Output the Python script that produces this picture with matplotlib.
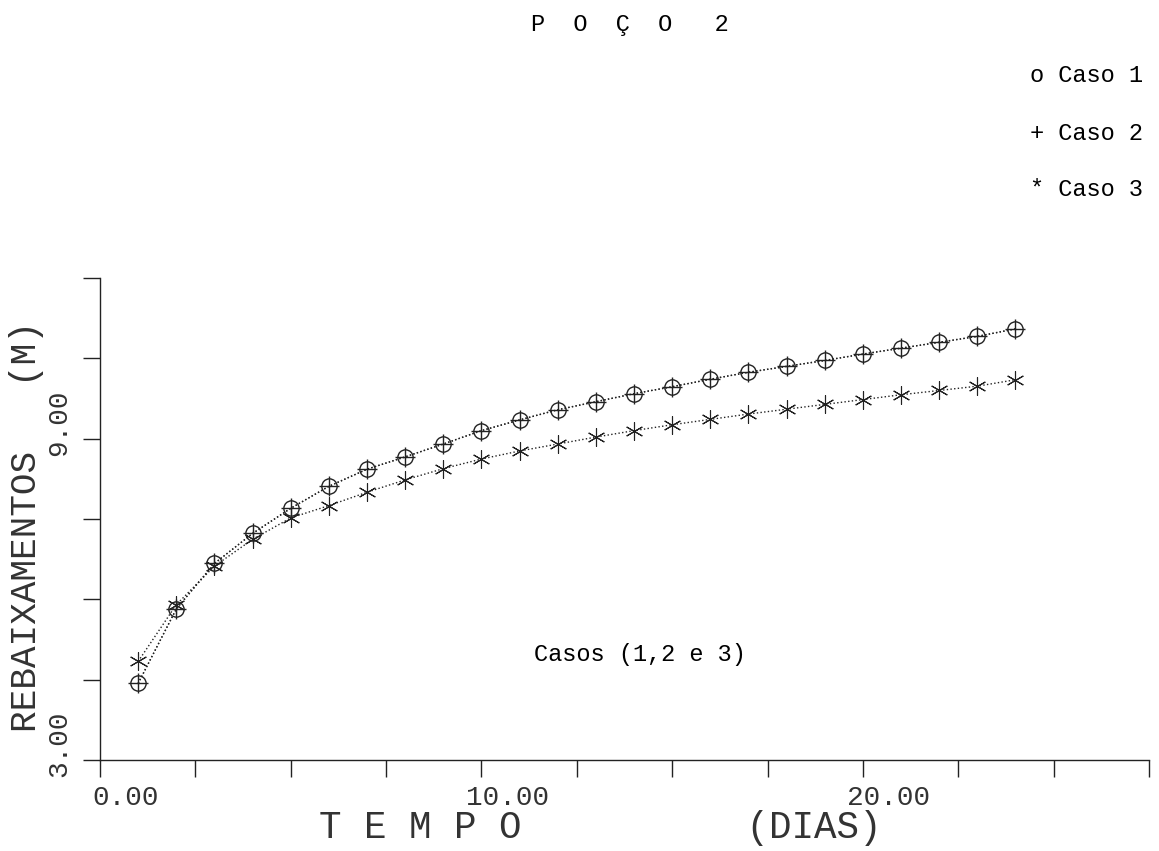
import numpy as np
import matplotlib
matplotlib.use("Agg")
import matplotlib.pyplot as plt
import matplotlib.transforms as mtransforms

# Rebaixamentos no poco 2, tres casos
dias = [1, 2, 3, 4, 5, 6, 7, 8, 9, 10, 11, 12,
        13, 14, 15, 16, 17, 18, 19, 20, 21, 22, 23, 24]
caso1 = [4.43, 5.82, 6.67, 7.23, 7.70, 8.11, 8.43, 8.66, 8.90, 9.15, 9.35, 9.54,
         9.69, 9.84, 9.97, 10.11, 10.24, 10.35, 10.46, 10.58, 10.69, 10.80, 10.91, 11.05]
caso2 = [4.43, 5.82, 6.67, 7.23, 7.70, 8.11, 8.43, 8.66, 8.90, 9.15, 9.35, 9.54,
         9.69, 9.84, 9.97, 10.11, 10.24, 10.35, 10.46, 10.58, 10.69, 10.80, 10.91, 11.05]
caso3 = [4.84, 5.90, 6.62, 7.12, 7.52, 7.75, 8.00, 8.23, 8.44, 8.62, 8.77, 8.90,
         9.03, 9.15, 9.26, 9.36, 9.46, 9.55, 9.64, 9.73, 9.82, 9.90, 9.98, 10.10]

x_ticks = [0, 2.5, 5, 7.5, 10, 12.5, 15, 17.5, 20, 22.5, 25, 27.5]
x_labels = ["0.00", "", "", "", "10.00", "", "", "", "20.00", "", "", ""]
y_ticks = [3, 4.5, 6, 7.5, 9, 10.5, 12]
y_labels = ["3.00", "", "", "", "9.00", "", ""]

mono = "Liberation Mono"
ink = "#222222"

fig = plt.figure(figsize=(11.59, 8.51), dpi=100)
ax = fig.add_axes([100/1159, 1 - 760/851, 1049/1159, 482/851])

ax.plot(dias, caso1, linestyle=":", color=ink, lw=1, marker="o", ms=11,
        mfc="none", mec=ink, mew=1)
ax.plot(dias, caso2, linestyle=":", color=ink, lw=1, marker="+", ms=14,
        mec=ink, mew=1)
ax.plot(dias, caso3, linestyle=":", color=ink, lw=1, marker=(6, 2, 0), ms=13,
        mec=ink, mew=0.8)

ax.set_xlim(0, 27.5)
ax.set_ylim(3, 12)
for s in ["top", "right"]:
    ax.spines[s].set_visible(False)
for s in ["left", "bottom"]:
    ax.spines[s].set_color(ink)
    ax.spines[s].set_linewidth(1)

ax.set_xticks(x_ticks)
ax.set_xticklabels(x_labels, fontfamily=mono, fontsize=20, color="#333333")
ax.set_yticks(y_ticks)
ax.set_yticklabels(y_labels, fontfamily=mono, fontsize=20, color="#333333",
                   rotation=90, va="center")
ax.tick_params(axis="x", direction="out", length=12, width=1, color=ink, pad=6)
ax.tick_params(axis="y", direction="out", length=12, width=1, color=ink, pad=8)

# the old plotter put the labels a bit off the ticks
dx = mtransforms.ScaledTranslation(0.26, 0, fig.dpi_scale_trans)
for lbl in ax.get_xticklabels():
    lbl.set_transform(lbl.get_transform() + dx)
dy = mtransforms.ScaledTranslation(0, 0.16, fig.dpi_scale_trans)
for lbl in ax.get_yticklabels():
    lbl.set_transform(lbl.get_transform() + dy)

ax.text(14.15, 4.97, "Casos (1,2 e 3)", fontfamily=mono, fontsize=17,
        color="black", ha="center", va="center")

fig.text(630/1159, 1 - 25/851, "P  O  Ç  O   2", fontfamily=mono, fontsize=17,
         ha="center", va="center")
legenda = ["o Caso 1", "+ Caso 2", "* Caso 3"]
for i, t in enumerate(legenda):
    fig.text(1030/1159, 1 - (76 + 57*i)/851, t, fontfamily=mono, fontsize=17,
             ha="left", va="center")

fig.text(600/1159, 1 - 828/851, "T E M P O          (DIAS)", fontfamily=mono,
         fontsize=27, color="#333333", ha="center", va="center")
fig.text(27/1159, 1 - 527/851, "REBAIXAMENTOS   (M)", fontfamily=mono,
         fontsize=26, color="#333333", ha="center", va="center", rotation=90)

fig.savefig("out.png", dpi=100)
